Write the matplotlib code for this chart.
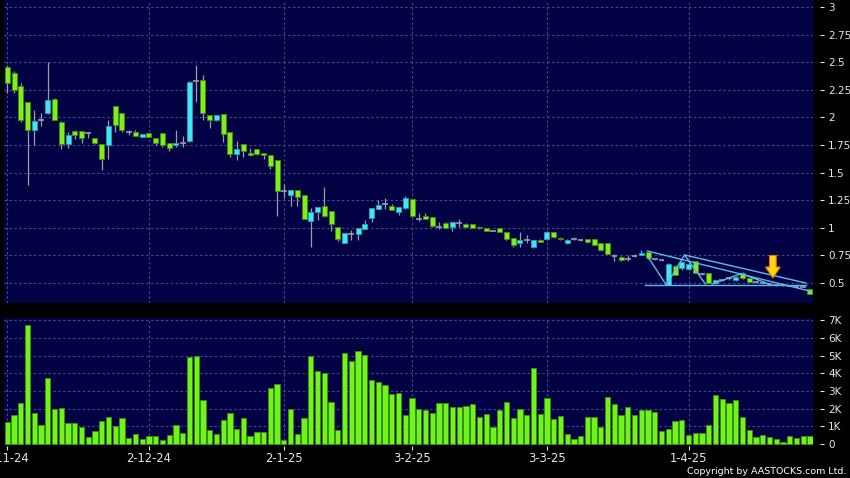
import numpy as np
import matplotlib
matplotlib.use('Agg')
import matplotlib.pyplot as plt
from matplotlib.patches import FancyArrow

# daily candles, 1-11-24 .. end of Apr 25 (trading-day index)
opens = [2.46, 2.40, 2.28, 2.14, 1.89, 1.98, 2.04, 2.17, 1.96, 1.76,
         1.88, 1.88, 1.86, 1.81, 1.76, 1.75, 2.10, 2.04, 1.87, 1.87,
         1.82, 1.86, 1.81, 1.86, 1.77, 1.75, 1.77, 1.79, 2.33, 2.34,
         2.02, 1.98, 2.03, 1.87, 1.67, 1.76, 1.68, 1.71, 1.68, 1.66,
         1.61, 1.33, 1.30, 1.34, 1.30, 1.06, 1.14, 1.20, 1.15, 1.01,
         0.86, 0.94, 0.94, 0.99, 1.09, 1.17, 1.22, 1.20, 1.14, 1.18,
         1.26, 1.08, 1.11, 1.10, 1.01, 1.04, 1.01, 1.04, 1.03, 1.03,
         1.01, 0.995, 0.975, 0.995, 0.96, 0.905, 0.86, 0.89, 0.83, 0.89,
         0.895, 0.96, 0.91, 0.86, 0.90, 0.89, 0.895, 0.895, 0.86, 0.86,
         0.745, 0.74, 0.717, 0.748, 0.754, 0.785, 0.717, 0.708, 0.48, 0.65,
         0.633, 0.624, 0.695, 0.58, 0.588, 0.497, 0.527, 0.542, 0.527, 0.593,
         0.542, 0.512, 0.497, 0.49, 0.48, 0.48, 0.475, 0.468, 0.468, 0.443]
highs = [2.47, 2.42, 2.31, 2.14, 2.07, 2.04, 2.50, 2.18, 1.97, 1.87,
         1.89, 1.88, 1.87, 1.81, 1.76, 1.98, 2.10, 2.04, 1.89, 1.89,
         1.85, 1.86, 1.81, 1.86, 1.77, 1.89, 1.83, 2.33, 2.47, 2.38,
         2.02, 2.02, 2.03, 1.87, 1.79, 1.76, 1.72, 1.71, 1.68, 1.66,
         1.61, 1.40, 1.34, 1.34, 1.30, 1.18, 1.19, 1.37, 1.15, 1.01,
         0.95, 0.98, 1.00, 1.07, 1.18, 1.25, 1.27, 1.22, 1.19, 1.29,
         1.26, 1.13, 1.13, 1.10, 1.05, 1.05, 1.05, 1.08, 1.04, 1.03,
         1.02, 1.00, 0.98, 1.00, 0.96, 0.905, 0.965, 0.935, 0.89, 0.90,
         0.97, 0.96, 0.92, 0.90, 0.92, 0.90, 0.90, 0.90, 0.86, 0.86,
         0.76, 0.745, 0.75, 0.76, 0.80, 0.79, 0.72, 0.71, 0.68, 0.66,
         0.70, 0.68, 0.70, 0.59, 0.59, 0.53, 0.54, 0.55, 0.56, 0.60,
         0.545, 0.52, 0.50, 0.50, 0.49, 0.485, 0.48, 0.475, 0.47, 0.45]
lows = [2.22, 2.22, 1.96, 1.39, 1.75, 1.92, 2.03, 1.98, 1.71, 1.72,
        1.80, 1.77, 1.81, 1.76, 1.52, 1.62, 1.87, 1.87, 1.84, 1.83,
        1.82, 1.82, 1.75, 1.73, 1.70, 1.73, 1.73, 1.78, 2.14, 1.98,
        1.90, 1.97, 1.78, 1.64, 1.61, 1.64, 1.65, 1.66, 1.62, 1.53,
        1.11, 1.27, 1.20, 1.20, 1.08, 0.83, 1.07, 1.10, 0.97, 0.88,
        0.86, 0.89, 0.89, 0.99, 1.05, 1.17, 1.17, 1.16, 1.12, 1.17,
        1.10, 1.06, 1.08, 1.01, 0.99, 1.00, 0.97, 1.01, 1.01, 1.00,
        0.99, 0.97, 0.97, 0.96, 0.89, 0.83, 0.83, 0.86, 0.82, 0.87,
        0.89, 0.91, 0.89, 0.85, 0.89, 0.88, 0.865, 0.84, 0.79, 0.76,
        0.70, 0.70, 0.70, 0.74, 0.75, 0.72, 0.71, 0.70, 0.48, 0.57,
        0.62, 0.62, 0.59, 0.57, 0.50, 0.49, 0.52, 0.53, 0.52, 0.54,
        0.51, 0.50, 0.49, 0.48, 0.47, 0.475, 0.47, 0.46, 0.46, 0.40]
closes = [2.31, 2.25, 1.98, 1.89, 1.97, 1.98, 2.16, 1.98, 1.76, 1.84,
          1.84, 1.81, 1.86, 1.77, 1.62, 1.92, 1.93, 1.89, 1.87, 1.83,
          1.85, 1.82, 1.77, 1.75, 1.72, 1.77, 1.77, 2.32, 2.33, 2.04,
          1.98, 2.02, 1.85, 1.67, 1.71, 1.70, 1.66, 1.67, 1.66, 1.56,
          1.33, 1.33, 1.34, 1.28, 1.08, 1.14, 1.19, 1.11, 1.03, 0.90,
          0.95, 0.94, 1.00, 1.03, 1.18, 1.21, 1.22, 1.16, 1.19, 1.27,
          1.11, 1.08, 1.08, 1.02, 1.01, 1.00, 1.05, 1.04, 1.01, 1.00,
          0.995, 0.975, 0.975, 0.965, 0.90, 0.84, 0.89, 0.89, 0.89, 0.875,
          0.96, 0.915, 0.895, 0.89, 0.90, 0.89, 0.868, 0.845, 0.80, 0.76,
          0.745, 0.71, 0.717, 0.748, 0.77, 0.724, 0.717, 0.708, 0.675, 0.573,
          0.69, 0.675, 0.595, 0.58, 0.503, 0.527, 0.527, 0.542, 0.557, 0.542,
          0.512, 0.512, 0.497, 0.49, 0.48, 0.48, 0.475, 0.468, 0.468, 0.40]
# volume in thousands
volume = [1.23, 1.66, 2.29, 6.72, 1.76, 1.08, 3.73, 1.97, 2.04, 1.17,
          1.19, 0.93, 0.36, 0.72, 1.27, 1.53, 1.00, 1.48, 0.34, 0.53,
          0.26, 0.44, 0.44, 0.23, 0.49, 1.08, 0.61, 4.90, 4.98, 2.48,
          0.81, 0.57, 1.34, 1.74, 0.83, 1.49, 0.42, 0.66, 0.66, 3.16,
          3.41, 0.23, 1.95, 0.57, 1.46, 4.99, 4.12, 3.99, 2.35, 0.81,
          5.13, 4.67, 5.26, 5.01, 3.61, 3.52, 3.33, 2.82, 2.86, 1.66,
          2.57, 1.95, 1.89, 1.76, 2.31, 2.33, 2.10, 2.10, 2.16, 2.27,
          1.53, 1.70, 0.98, 1.89, 2.35, 1.49, 1.99, 1.63, 4.29, 1.68,
          2.61, 1.40, 1.59, 0.53, 0.25, 0.47, 1.51, 1.51, 0.95, 2.65,
          2.27, 1.66, 2.06, 1.66, 1.91, 1.93, 1.83, 0.74, 0.85, 1.31,
          1.34, 0.49, 0.64, 0.59, 1.08, 2.74, 2.55, 2.29, 2.46, 1.53,
          0.78, 0.36, 0.51, 0.36, 0.25, 0.11, 0.47, 0.32, 0.43, 0.43]

date_idx = [0, 21, 41, 60, 80, 101]
date_labels = ['1-11-24', '2-12-24', '2-1-25', '3-2-25', '3-3-25', '1-4-25']
price_ticks = [0.5, 0.75, 1, 1.25, 1.5, 1.75, 2, 2.25, 2.5, 2.75, 3]
price_labels = ['0.5', '0.75', '1', '1.25', '1.5', '1.75', '2', '2.25', '2.5', '2.75', '3']
vol_ticks = [0, 1, 2, 3, 4, 5, 6, 7]
vol_labels = ['0', '1K', '2K', '3K', '4K', '5K', '6K', '7K']

# hand-drawn trend lines (index, price)
trend_lines = [
    ([94.5, 118.4], [0.482, 0.482]),
    ([94.9, 119.1], [0.790, 0.425]),
    ([100.4, 118.4], [0.754, 0.500]),
    ([95.0, 97.7, 100.4, 103.5], [0.735, 0.482, 0.754, 0.491]),
    ([104.5, 108.8, 113.0], [0.490, 0.585, 0.490]),
]
arrow_x, arrow_top, arrow_tip = 113.5, 0.75, 0.545

bg = '#010144'
grid_c = '#48488a'
txt_c = '#e6e6e6'
green, green_e = '#80ee1c', '#3f8a0e'
cyan, cyan_e = '#3fe6f5', '#2a9aa8'
grey = '#9c9cab'

fig = plt.figure(figsize=(8.5, 4.78), dpi=100, facecolor='black')
ax = fig.add_axes([4/850, 175/478, 809/850, 303/478], facecolor=bg)
axv = fig.add_axes([4/850, 33.5/478, 809/850, 126.5/478], facecolor=bg)

x = np.arange(len(opens))
o = np.array(opens); c = np.array(closes)
h = np.array(highs); l = np.array(lows)

for a in (ax, axv):
    a.set_xlim(-0.49, 119.45)
    for s in a.spines.values():
        s.set_visible(False)
    for d in date_idx:
        a.axvline(d, color=grid_c, lw=0.8, ls=(0, (2.2, 2.2)), zorder=0)

# price panel
for p in price_ticks:
    ax.axhline(p, color=grid_c, lw=0.8, ls=(0, (2.2, 2.2)), zorder=0)
ax.vlines(x, l, h, color=grey, lw=0.9, zorder=2)
up = c > o
dn = c < o
eq = c == o
ax.bar(x[dn], (o - c)[dn], bottom=c[dn], width=0.74, color=green,
       edgecolor=green_e, lw=0.7, zorder=3)
ax.bar(x[up], (c - o)[up], bottom=o[up], width=0.74, color=cyan,
       edgecolor=cyan_e, lw=0.7, zorder=3)
ax.hlines(c[eq], x[eq] - 0.42, x[eq] + 0.42, color=grey, lw=1.2, zorder=3)

for xs, ys in trend_lines:
    ax.plot(xs, ys, color='#5fb8ea', lw=1.0, zorder=4)
ax.add_patch(FancyArrow(arrow_x, arrow_top, 0, arrow_tip - arrow_top,
                        width=1.0, head_width=2.2, head_length=0.1,
                        length_includes_head=True, facecolor='#ffd21c',
                        edgecolor='#e07a00', lw=0.8, zorder=5))

ax.set_ylim(0.319, 3.063)
ax.yaxis.tick_right()
ax.spines['right'].set_position(('outward', 5))
ax.set_yticks(price_ticks)
ax.set_yticklabels(price_labels)
ax.set_xticks([])
ax.tick_params(axis='y', colors=txt_c, length=3, width=0.8, pad=3, labelsize=7.5)

# volume panel
for v in vol_ticks[1:]:
    axv.axhline(v, color=grid_c, lw=0.8, ls=(0, (2.2, 2.2)), zorder=0)
axv.bar(x, volume, width=0.78, color='#70f51c', edgecolor='#3c8c0c', lw=0.7, zorder=3)
axv.set_ylim(-0.04, 7.13)
axv.yaxis.tick_right()
axv.spines['right'].set_position(('outward', 5))
axv.spines['bottom'].set_position(('outward', 1))
axv.set_yticks(vol_ticks)
axv.set_yticklabels(vol_labels)
axv.set_xticks(date_idx)
axv.set_xticklabels(date_labels)
axv.tick_params(axis='y', colors=txt_c, length=3, width=0.8, pad=3, labelsize=7.5)
axv.tick_params(axis='x', colors=txt_c, length=3, width=0.8, pad=1.5, labelsize=8.3)

fig.text(846/850, 1 - 472/478, 'Copyright by AASTOCKS.com Ltd.', color='white',
         fontsize=6.8, ha='right', va='center')

fig.savefig('out.png', dpi=100, facecolor='black')
